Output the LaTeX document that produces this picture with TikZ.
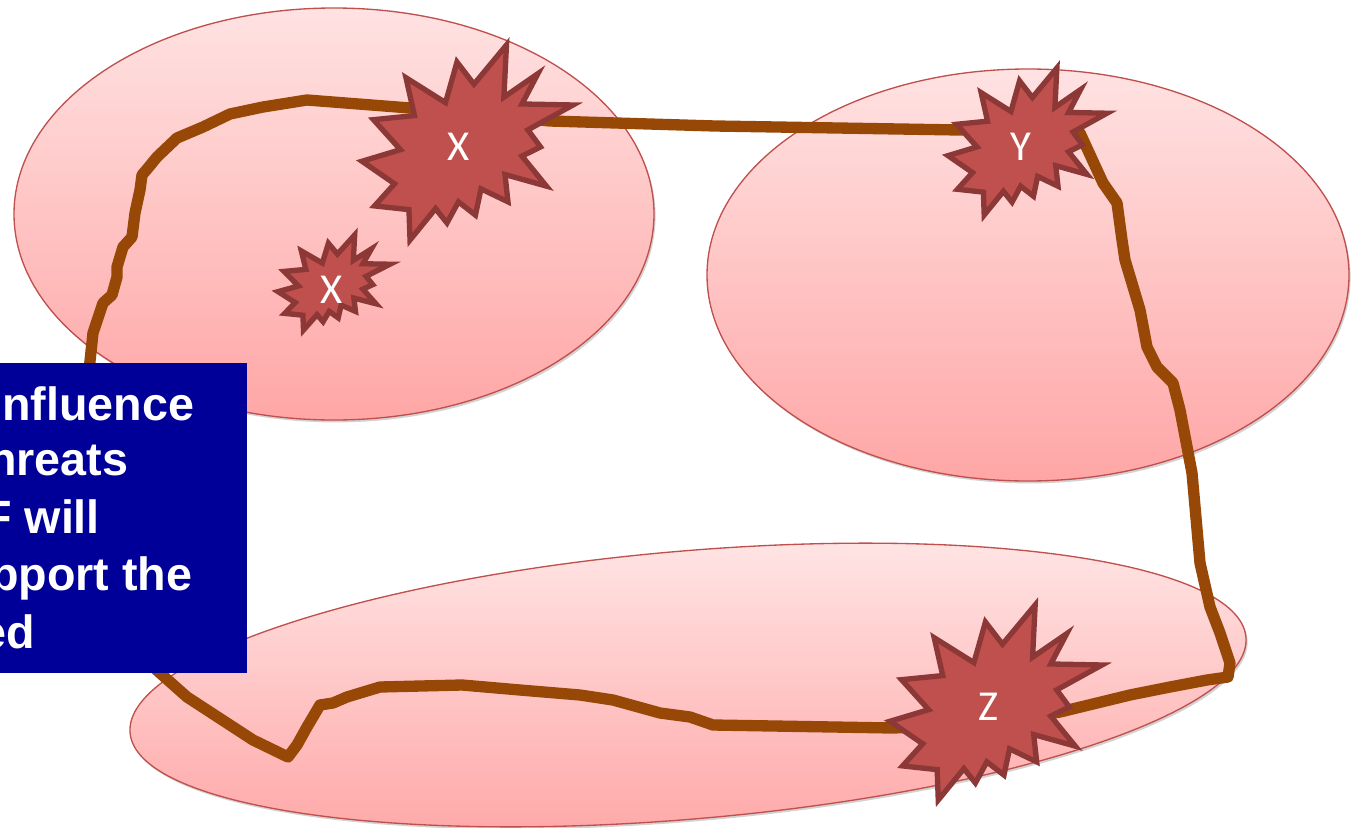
\documentclass[tikz,border=0pt]{standalone}
\usepackage{fontspec}
\setmainfont{Liberation Sans}
\newfontfamily\carlito{Carlito}
\usetikzlibrary{calc,shadows}

\definecolor{routebrown}{RGB}{152,72,6}
\definecolor{boomfill}{RGB}{192,80,77}
\definecolor{boomedge}{RGB}{140,56,54}
\definecolor{blobedge}{RGB}{192,80,77}
\definecolor{blobtop}{RGB}{255,226,226}
\definecolor{blobbot}{RGB}{255,166,166}
\definecolor{boxblue}{RGB}{0,0,153}

\tikzset{
	blob/.style={draw=blobedge,line width=1pt,top color=blobtop,bottom color=blobbot,
		drop shadow={shadow xshift=1.2pt,shadow yshift=-1.8pt,opacity=.25,fill=black!70}},
	route/.style={draw=routebrown,line width=8.5pt},
	boom/.style={fill=boomfill,draw=boomedge,line width=4pt,line join=miter},
	boomtext/.style={text=white,inner sep=0pt,font=\carlito\fontsize{32}{36}\selectfont},
	boxtext/.style={text=white,inner sep=0pt,anchor=base west,font=\bfseries\fontsize{35}{40}\selectfont},
}

% vụ nổ: góc trên trái (#1,#2), rộng #3, cao #4
\newcommand{\boom}[4]{%
	\begin{scope}[shift={(#1,#2)},xscale=#3/100,yscale=#4/100]
		\draw[boom] (53.06,20.10) -- (68.47,0) -- (67.25,26.75) -- (83.37,14.69) -- (75.83,30.24)
		-- (100,30.76) -- (78.63,43.53) -- (84.58,52.27) -- (75.83,56.99) -- (87.39,72.37)
		-- (67.78,66.44) -- (69.18,80.42) -- (56.39,73.77) -- (53.76,87.23) -- (45.70,80.42)
		-- (40.28,91.26) -- (34.85,83.91) -- (22.76,100) -- (22.25,84.44) -- (5.95,82.52)
		-- (15.42,71.16) -- (0,59.62) -- (18.22,53.67) -- (5.43,38.29) -- (24.87,36.19)
		-- (20.84,16.78) -- (39.58,29.55) -- (45.01,8.74) -- cycle;
	\end{scope}}

\begin{document}
\begin{tikzpicture}[x=0.75pt,y=-0.75pt,line join=round,line cap=round]
	\useasboundingbox (0,0) rectangle (1353,828);
	% ba vùng
	\draw[blob] (334,214) ellipse (320 and 206);
	\draw[blob] (1028,275) ellipse (321 and 206);
	\draw[blob,rotate around={4.9:(688,685)}] (688,685) ellipse (560 and 134);
	% đường đi
	\draw[route] (88,380) -- (93,333) -- (103,303) -- (112,295) -- (117,277) -- (117,267)
		-- (123,247) -- (132,237) -- (135,213) -- (140,190) -- (142,175) -- (148,168)
		-- (157,157) -- (177,138) -- (203,127) -- (230,114) -- (263,107) -- (307,100)
		-- (410,108) -- (550,121) -- (715,126) -- (960,130) -- (1075,129) -- (1080,133)
		-- (1103,183) -- (1117,203) -- (1122,240) -- (1125,260) -- (1140,310) -- (1147,347)
		-- (1157,367) -- (1173,383) -- (1180,410) -- (1192,473) -- (1200,563) -- (1210,607)
		-- (1220,633) -- (1230,663) -- (1228,677) -- (1207,680) -- (1170,687) -- (1130,695)
		-- (1060,712) -- (990,724) -- (893,728) -- (713,725) -- (690,717) -- (660,713)
		-- (613,700) -- (580,695) -- (520,690) -- (462,685) -- (380,687) -- (347,697)
		-- (333,703) -- (320,705) -- (307,727) -- (297,745) -- (288,757) -- (253,740)
		-- (187,697) -- (160,673) -- (140,655);
	% các điểm nổ
	\boom{362}{45}{211}{195}
	\boom{278}{235}{112}{95}
	\boom{948}{68}{159}{147}
	\boom{890}{605}{212}{195}
	\node[boomtext] (x1) at (459,147) {X};
	\node[boomtext] (x2) at (332,290) {X};
	\node[boomtext] (y1) at (1021,147) {Y};
	\node[boomtext] (z1) at (988,707) {Z};
	% hộp ghi chú
	\fill[boxblue] (-10,363) rectangle (247,673);
	\node[boxtext] (t1) at (2,420) {nfluence};
	\node[boxtext] (t2) at (-12,475) {hreats};
	\node[boxtext] (t3) at (-17,533) {F will};
	\node[boxtext] (t4) at (-10,590) {pport the};
	\node[boxtext] (t5) at (-20,648) {ed};
\end{tikzpicture}
\end{document}
